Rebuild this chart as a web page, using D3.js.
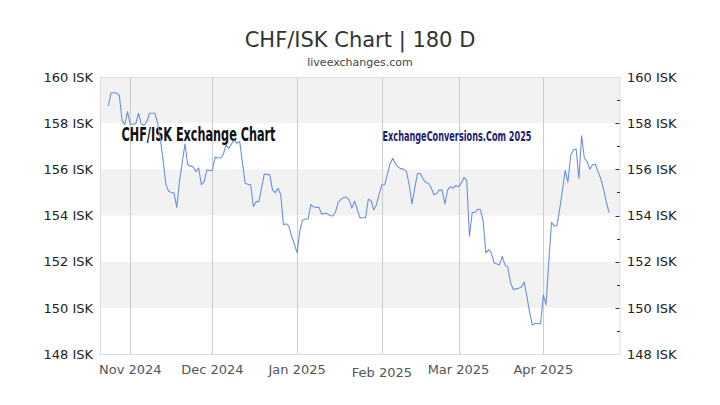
<!DOCTYPE html>
<html>
<head>
<meta charset="utf-8">
<script src="https://cdn.jsdelivr.net/npm/d3@7"></script>
<style>
  html, body { margin: 0; padding: 0; background: #fff; }
  svg { display: block; }
  text { font-family: "DejaVu Sans", sans-serif; }
</style>
</head>
<body>
<svg id="chart" width="720" height="405"></svg>
<script>
// ---- data ----
const startDate = "2024-10-24";           // first daily value
const rates = [
  158.75, 159.32, 159.32, 159.30, 159.20, 158.10, 157.95, 158.50,
  157.95, 157.95, 157.98, 158.43, 157.97, 157.90, 158.05, 158.43, 158.43, 158.43,
  158.00, 157.30, 156.40, 155.35, 155.05, 155.00, 154.97, 154.35, 155.50, 156.30,
  157.10, 156.20, 156.15, 156.10, 155.90, 156.05, 155.33, 155.47, 155.98, 155.95,
  155.95, 156.53, 156.50, 156.48, 156.65, 157.06, 156.90, 157.10, 157.25, 157.13,
  157.20, 156.30, 155.40, 155.35, 155.33, 154.39, 154.60, 154.60, 155.20, 155.80,
  155.78, 155.76, 155.10, 154.99, 155.18, 154.90, 153.60, 153.64, 153.53, 153.10,
  152.75, 152.38, 153.35, 153.80, 153.85, 153.85, 154.47, 154.38, 154.35, 154.35,
  154.05, 154.10, 154.08, 154.00, 153.98, 154.15, 154.57, 154.70, 154.78, 154.80,
  154.68, 154.32, 154.62, 154.25, 153.90, 153.90, 153.90, 154.70, 154.65, 154.25,
  154.47, 154.95, 155.33, 155.33, 155.80, 156.25, 156.48, 156.22, 156.08, 156.03,
  156.00, 155.90, 155.30, 154.50, 155.20, 155.82, 155.82, 155.60, 155.43, 155.40,
  155.20, 154.90, 154.95, 155.11, 155.10, 154.50, 155.10, 155.25, 155.18, 155.30,
  155.25, 155.40, 155.65, 155.52, 153.10, 154.13, 154.13, 154.28, 154.25, 153.75,
  152.38, 152.52, 152.38, 151.95, 151.90, 151.87, 152.23, 151.85, 151.77, 151.10,
  150.80, 150.82, 150.85, 150.90, 151.12, 150.50, 149.80, 149.25, 149.32, 149.32,
  149.30, 150.55, 150.14, 152.00, 153.70, 153.55, 153.57, 154.30, 155.10, 155.95,
  155.45, 156.60, 156.85, 156.88, 155.60, 157.45, 156.48, 156.35, 156.00, 156.20,
  156.22, 155.90, 155.60, 155.15, 154.60, 154.13
];
const xDomain = ["2024-10-21", "2025-04-29"];
const yDomain = [148, 160];
const yTicks = [148, 150, 152, 154, 156, 158, 160];
const yMinorTicks = [149, 151, 153, 155, 157, 159];
const monthTicks = ["2024-11-01", "2024-12-01", "2025-01-01", "2025-02-01", "2025-03-01", "2025-04-01"];
const monthLabels = ["Nov 2024", "Dec 2024", "Jan 2025", "Feb 2025", "Mar 2025", "Apr 2025"];
const bandRanges = [[158, 160], [154, 156], [150, 152]];
const titleText = "CHF/ISK Chart | 180 D";
const subtitleText = "liveexchanges.com";
const watermark1 = "CHF/ISK Exchange Chart";
const watermark2 = "ExchangeConversions.Com 2025";
const unit = "ISK";

// ---- layout ----
const parse = d3.utcParse("%Y-%m-%d");
const plot = { left: 100.5, right: 620, top: 77, bottom: 354 };

const x = d3.scaleUtc()
  .domain(xDomain.map(parse))
  .range([100.2, 619.9]);
const y = d3.scaleLinear()
  .domain(yDomain)
  .range([plot.bottom, plot.top]);

const start = parse(startDate);
const data = rates.map((v, i) => ({ date: d3.utcDay.offset(start, i), value: v }));

const svg = d3.select("#chart");

// bands
svg.append("g").selectAll("rect").data(bandRanges).join("rect")
  .attr("x", plot.left)
  .attr("width", plot.right - plot.left)
  .attr("y", d => y(d[1]))
  .attr("height", d => y(d[0]) - y(d[1]))
  .attr("fill", "#f2f2f2");

// vertical month grid lines
svg.append("g").selectAll("line").data(monthTicks).join("line")
  .attr("x1", d => Math.round(x(parse(d))) + 0.5)
  .attr("x2", d => Math.round(x(parse(d))) + 0.5)
  .attr("y1", plot.top)
  .attr("y2", plot.bottom)
  .attr("stroke", "#cccccc")
  .attr("stroke-width", 1);

// frame
svg.append("rect")
  .attr("x", plot.left).attr("y", plot.top + 0.5)
  .attr("width", plot.right - plot.left)
  .attr("height", plot.bottom - plot.top)
  .attr("fill", "none")
  .attr("stroke", "#dddddd")
  .attr("stroke-width", 1);

// watermarks
svg.append("text")
  .attr("x", 121.5).attr("y", 141)
  .attr("textLength", 154)
  .attr("lengthAdjust", "spacingAndGlyphs")
  .style("font-family", "'DejaVu Sans Condensed', 'DejaVu Sans', sans-serif")
  .style("font-weight", "bold")
  .style("font-size", "19px")
  .attr("fill", "#111")
  .text(watermark1);

svg.append("text")
  .attr("x", 382.5).attr("y", 141)
  .attr("textLength", 149)
  .attr("lengthAdjust", "spacingAndGlyphs")
  .style("font-family", "'DejaVu Sans Condensed', 'DejaVu Sans', sans-serif")
  .style("font-weight", "bold")
  .style("font-size", "14px")
  .attr("fill", "#1c1c6e")
  .text(watermark2);

// line
const line = d3.line()
  .x(d => x(d.date))
  .y(d => y(d.value));

svg.append("path")
  .datum(data)
  .attr("d", line)
  .attr("fill", "none")
  .attr("stroke", "#6f8fdc")
  .attr("stroke-width", 1.1)
  .attr("stroke-linejoin", "round");

// right axis small ticks
svg.append("g").selectAll("line").data(yTicks.slice(1, -1)).join("line")
  .attr("x1", 615.5).attr("x2", 619.5)
  .attr("y1", d => Math.round(y(d)) + 0.5)
  .attr("y2", d => Math.round(y(d)) + 0.5)
  .attr("stroke", "#333").attr("stroke-width", 1);
svg.append("g").selectAll("line").data(yMinorTicks).join("line")
  .attr("x1", 617).attr("x2", 620)
  .attr("y1", d => Math.round(y(d)) + 0.5)
  .attr("y2", d => Math.round(y(d)) + 0.5)
  .attr("stroke", "#333").attr("stroke-width", 1);

// left axis labels
svg.append("g").selectAll("text").data(yTicks).join("text")
  .attr("x", 93)
  .attr("y", d => y(d))
  .attr("dy", "0.36em")
  .attr("text-anchor", "end")
  .style("font-size", "13px")
  .attr("fill", "#222")
  .text(d => d + " " + unit);

// right axis labels
svg.append("g").selectAll("text").data(yTicks).join("text")
  .attr("x", 627)
  .attr("y", d => y(d))
  .attr("dy", "0.36em")
  .attr("text-anchor", "start")
  .style("font-size", "13px")
  .attr("fill", "#222")
  .text(d => d + " " + unit);

// bottom month labels
svg.append("g").selectAll("text").data(monthTicks).join("text")
  .attr("x", d => x(parse(d)))
  .attr("y", (d, i) => monthLabels[i].startsWith("Feb") ? 377 : 373.5)
  .attr("text-anchor", "middle")
  .style("font-size", "13px")
  .attr("fill", "#555")
  .text((d, i) => monthLabels[i]);

// title & subtitle
svg.append("text")
  .attr("x", 360).attr("y", 47)
  .attr("text-anchor", "middle")
  .style("font-size", "21px")
  .attr("fill", "#333")
  .text(titleText);

svg.append("text")
  .attr("x", 360).attr("y", 66)
  .attr("text-anchor", "middle")
  .style("font-size", "11px")
  .attr("fill", "#444")
  .text(subtitleText);
</script>
</body>
</html>
